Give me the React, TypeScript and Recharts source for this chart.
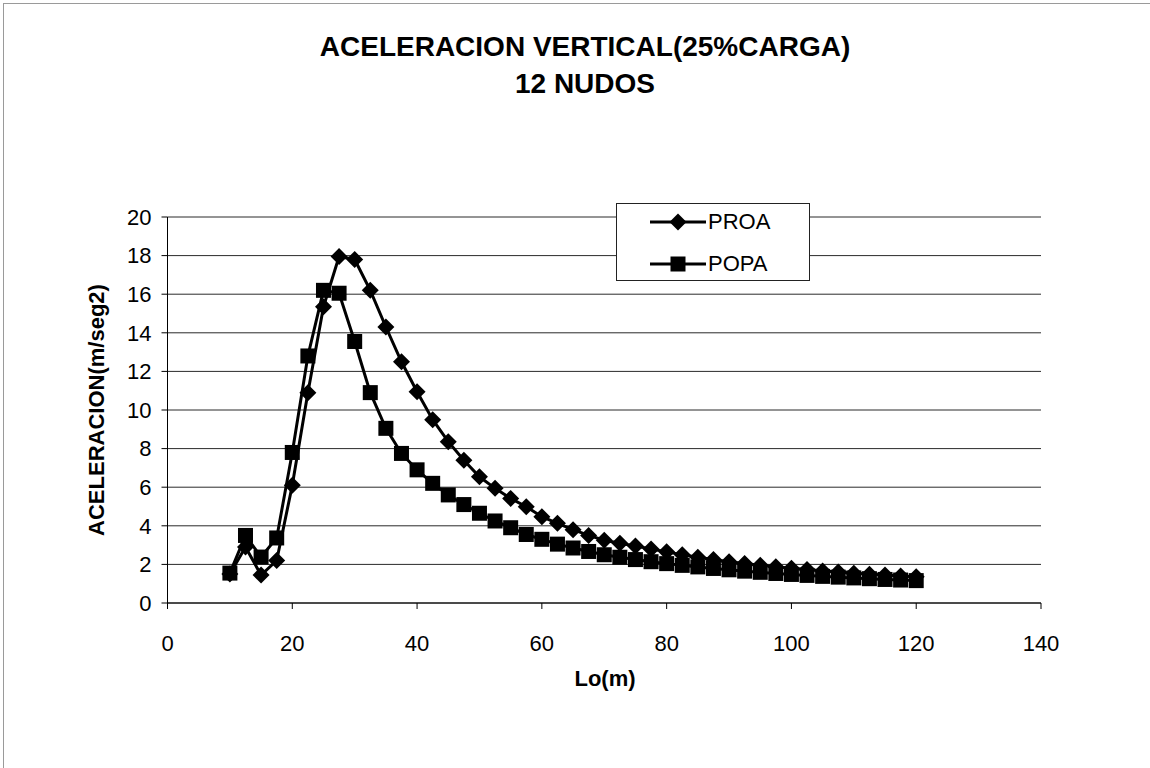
import React from "react"
import { LineChart, Line, XAxis, YAxis, CartesianGrid } from "recharts"

// Lo(m) sampled every 2.5 m
const LO = [
  10, 12.5, 15, 17.5, 20, 22.5, 25, 27.5, 30, 32.5, 35, 37.5, 40, 42.5, 45,
  47.5, 50, 52.5, 55, 57.5, 60, 62.5, 65, 67.5, 70, 72.5, 75, 77.5, 80, 82.5,
  85, 87.5, 90, 92.5, 95, 97.5, 100, 102.5, 105, 107.5, 110, 112.5, 115, 117.5, 120,
]

const PROA = [
  1.5, 2.9, 1.45, 2.2, 6.1, 10.9, 15.35, 17.95, 17.8, 16.2, 14.3, 12.5, 10.95, 9.5, 8.36,
  7.4, 6.54, 5.94, 5.42, 4.99, 4.47, 4.13, 3.8, 3.5, 3.25, 3.1, 2.95, 2.8, 2.65, 2.5,
  2.37, 2.25, 2.14, 2.05, 1.96, 1.88, 1.8, 1.73, 1.66, 1.6, 1.54, 1.49, 1.45, 1.4, 1.36,
]

const POPA = [
  1.55, 3.5, 2.38, 3.37, 7.8, 12.8, 16.2, 16.05, 13.55, 10.9, 9.05, 7.75, 6.9, 6.2, 5.6,
  5.1, 4.65, 4.25, 3.9, 3.55, 3.3, 3.05, 2.85, 2.67, 2.5, 2.37, 2.25, 2.14, 2.04, 1.95,
  1.87, 1.79, 1.72, 1.65, 1.59, 1.53, 1.48, 1.43, 1.38, 1.34, 1.3, 1.26, 1.22, 1.19, 1.16,
]

const X_TICKS = [0, 20, 40, 60, 80, 100, 120, 140]
const Y_TICKS = [0, 2, 4, 6, 8, 10, 12, 14, 16, 18, 20]

const data = LO.map((lo, i) => ({ lo, proa: PROA[i], popa: POPA[i] }))

const FONT = "Arial, 'Liberation Sans', sans-serif"

const Diamond = (props: any) => {
  const { cx, cy } = props
  if (cx == null || cy == null) return null
  const r = 8.5
  return (
    <polygon
      key={`d-${cx}-${cy}`}
      points={`${cx},${cy - r} ${cx + r},${cy} ${cx},${cy + r} ${cx - r},${cy}`}
      fill="#000"
    />
  )
}

const Square = (props: any) => {
  const { cx, cy } = props
  if (cx == null || cy == null) return null
  const s = 7.5
  return <rect key={`s-${cx}-${cy}`} x={cx - s} y={cy - s} width={s * 2} height={s * 2} fill="#000" />
}

function LegendBox() {
  const rows = [
    { name: "PROA", shape: "diamond" },
    { name: "POPA", shape: "square" },
  ]
  return (
    <div
      style={{
        position: "absolute",
        left: 616,
        top: 203,
        width: 194,
        height: 78,
        border: "1px solid #222",
        background: "#fff",
        boxSizing: "border-box",
        fontFamily: FONT,
      }}
    >
      {rows.map((r, i) => (
        <div
          key={r.name}
          style={{
            position: "absolute",
            left: 0,
            top: i === 0 ? 4 : 46,
            height: 28,
            display: "flex",
            alignItems: "center",
          }}
        >
          <svg width={91} height={28} style={{ display: "block" }}>
            <line x1={33} y1={14} x2={89} y2={14} stroke="#000" strokeWidth={3} />
            {r.shape === "diamond" ? (
              <polygon points="61,5.5 69.5,14 61,22.5 52.5,14" fill="#000" />
            ) : (
              <rect x={53.5} y={6.5} width={15} height={15} fill="#000" />
            )}
          </svg>
          <span style={{ fontSize: 22, color: "#000" }}>{r.name}</span>
        </div>
      ))}
    </div>
  )
}

export default function App() {
  return (
    <div
      style={{
        position: "relative",
        width: 1150,
        height: 768,
        background: "#fff",
        fontFamily: FONT,
        overflow: "hidden",
      }}
    >
      <style>{`body{margin:0;background:#fff}`}</style>
      {/* scanned page frame */}
      <div style={{ position: "absolute", left: 3, top: 3, width: 1147, height: 1, background: "#9a9a9a" }} />
      <div style={{ position: "absolute", left: 3, top: 3, width: 1, height: 765, background: "#9a9a9a" }} />

      <div
        style={{
          position: "absolute",
          left: 285,
          width: 600,
          top: 28,
          textAlign: "center",
          fontWeight: "bold",
          fontSize: 28,
          lineHeight: "37px",
          color: "#000",
        }}
      >
        ACELERACION VERTICAL(25%CARGA)
        <br />
        12 NUDOS
      </div>

      <LineChart
        width={1150}
        height={768}
        data={data}
        margin={{ top: 217, right: 109, bottom: 105, left: 107.5 }}
        style={{ position: "absolute", left: 0, top: 0 }}
      >
        <CartesianGrid horizontal vertical={false} stroke="#2a2a2a" strokeWidth={1} />
        <XAxis
          dataKey="lo"
          type="number"
          domain={[0, 140]}
          ticks={X_TICKS}
          height={60}
          tickSize={6}
          tickMargin={26}
          stroke="#000"
          tick={{ fill: "#000", fontSize: 22, fontFamily: FONT }}
        />
        <YAxis
          type="number"
          domain={[0, 20]}
          ticks={Y_TICKS}
          width={60}
          tickSize={6}
          tickMargin={10}
          stroke="#000"
          interval={0}
          tick={{ fill: "#000", fontSize: 22, fontFamily: FONT }}
        />
        <Line
          dataKey="proa"
          name="PROA"
          stroke="#000"
          strokeWidth={3}
          dot={Diamond}
          isAnimationActive={false}
        />
        <Line
          dataKey="popa"
          name="POPA"
          stroke="#000"
          strokeWidth={3}
          dot={Square}
          isAnimationActive={false}
        />
      </LineChart>

      <LegendBox />

      <div
        style={{
          position: "absolute",
          left: 97,
          top: 410,
          transform: "translate(-50%, -50%) rotate(-90deg)",
          whiteSpace: "nowrap",
          fontWeight: "bold",
          fontSize: 22,
          color: "#000",
        }}
      >
        ACELERACION(m/seg2)
      </div>
      <div
        style={{
          position: "absolute",
          left: 605,
          top: 679,
          transform: "translate(-50%, -50%)",
          whiteSpace: "nowrap",
          fontWeight: "bold",
          fontSize: 22,
          color: "#000",
        }}
      >
        Lo(m)
      </div>
    </div>
  )
}
